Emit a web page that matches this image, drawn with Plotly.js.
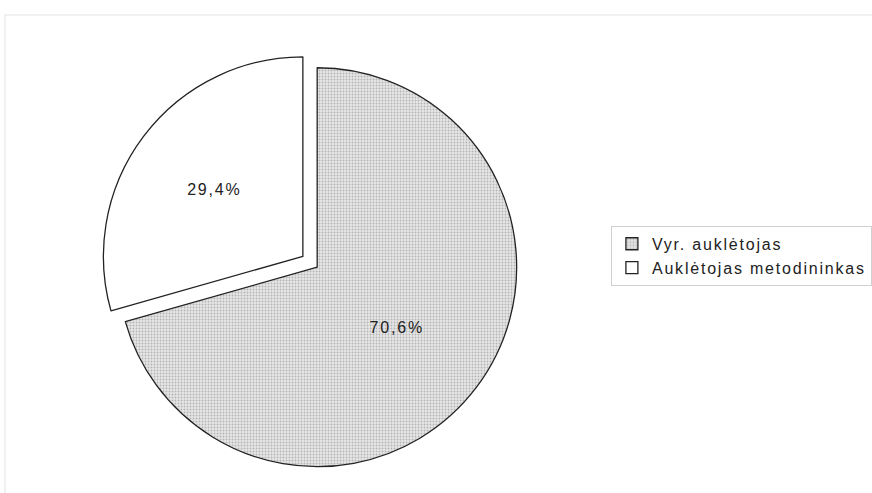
<!DOCTYPE html>
<html>
<head>
<meta charset="utf-8">
<script src="https://cdn.plot.ly/plotly-3.0.1.min.js"></script>
<style>
html,body{margin:0;padding:0;background:#fff;}
#chart{width:872px;height:493px;}
svg text{letter-spacing:1.8px;}
</style>
</head>
<body>
<div id="chart"></div>
<script>
var categories = ["Vyr. auklėtojas", "Auklėtojas metodininkas"];
var values = [70.6, 29.4];
var pulls = [0, 0.09];

var trace = {
  type: "pie",
  labels: categories,
  values: values,
  sort: false,
  direction: "clockwise",
  rotation: 0,
  pull: pulls,
  texttemplate: "%{percent:.1%}",
  textposition: "inside",
  insidetextorientation: "horizontal",
  textfont: {family: "Liberation Sans, Arial, sans-serif", size: 16, color: "#222"},
  marker: {
    colors: ["#dcdcdc", "#ffffff"],
    line: {color: "#222", width: 1.3},
    pattern: {shape: [".", ""], fgcolor: "#b4b4b4", bgcolor: ["#e6e6e6", "#ffffff"], size: 3, solidity: 0.3}
  },
  domain: {x: [0.035, 0.695], y: [0.017, 0.899]},
  hoverinfo: "label+percent"
};

var layout = {
  width: 872, height: 493,
  margin: {l: 0, r: 0, t: 0, b: 0},
  paper_bgcolor: "#ffffff",
  separators: ",.",
  showlegend: true,
  legend: {
    x: 0.703, y: 0.481, xanchor: "left", yanchor: "middle",
    bordercolor: "#d0d0d0", borderwidth: 1, bgcolor: "rgba(0,0,0,0)",
    font: {family: "Liberation Sans, Arial, sans-serif", size: 16, color: "#222"},
    itemwidth: 30, tracegroupgap: 4
  },
  shapes: [
    {type: "rect", xref: "paper", yref: "paper", x0: 0.0057, x1: 1.01, y0: -0.05, y1: 0.9696, line: {color: "#e2e2e2", width: 1}}
  ]
};

Plotly.newPlot("chart", [trace], layout, {displayModeBar: false, staticPlot: true});
</script>
</body>
</html>
